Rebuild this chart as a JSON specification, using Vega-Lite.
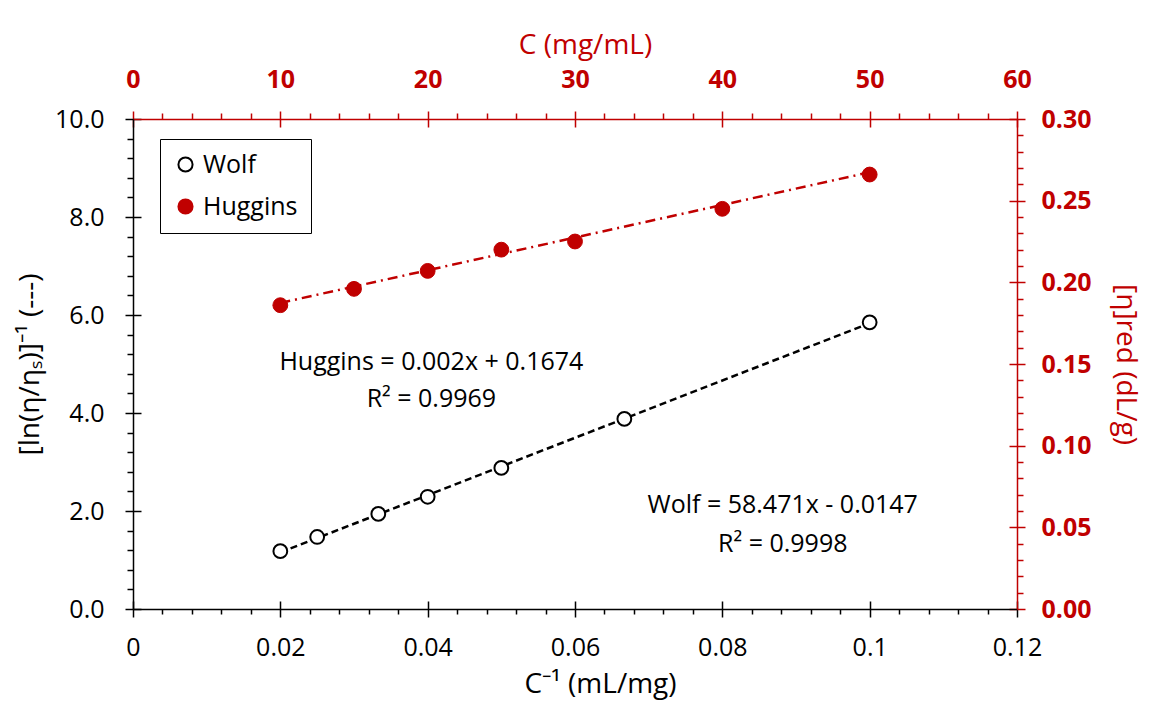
{
  "$schema": "https://vega.github.io/schema/vega-lite/v6.json",
  "width": 884,
  "height": 490,
  "autosize": {"type": "none"},
  "padding": {"left": 133, "top": 119, "right": 132, "bottom": 100},
  "background": "white",
  "config": {
    "view": {"stroke": null},
    "font": "Open Sans",
    "axis": {"labelFont": "Open Sans", "titleFont": "Open Sans", "labelOverlap": false, "labelFlush": false, "titleFontWeight": "normal"}
  },
  "layer": [
    {
      "encoding": {
        "x": {
          "field": "x", "type": "quantitative",
          "scale": {"domain": [0, 0.12], "nice": false, "zero": false},
          "axis": {
            "orient": "bottom",
            "title": "C⁻¹ (mL/mg)",
            "titleX": 467,
            "values": [0,0.004,0.008,0.012,0.016,0.02,0.024,0.028,0.032,0.036,0.04,0.044,0.048,0.052,0.056,0.06,0.064,0.068,0.072,0.076,0.08,0.084,0.088,0.092,0.096,0.1,0.104,0.108,0.112,0.116,0.12],
            "labelExpr": "abs(datum.value*50 - round(datum.value*50)) < 1e-6 ? format(datum.value, '~g') : ''",
            "tickSize": {"condition": {"test": "abs(datum.value*50 - round(datum.value*50)) < 1e-6", "value": 8}, "value": 5},
            "grid": true,
            "gridDash": [0, 482, 8, 3000],
            "gridColor": "black",
            "gridWidth": 1.5,
            "gridOpacity": {"condition": {"test": "abs(datum.value*50 - round(datum.value*50)) < 1e-6", "value": 1}, "value": 0},
            "domainColor": "black", "domainWidth": 1.5,
            "tickColor": "black", "tickWidth": 1.5,
            "labelColor": "black", "labelFontSize": 25, "labelPadding": 18,
            "titleColor": "black", "titleFontSize": 28, "titlePadding": 10
          }
        },
        "y": {
          "field": "y", "type": "quantitative",
          "scale": {"domain": [0, 10], "nice": false, "zero": false},
          "axis": {
            "orient": "left",
            "title": "[ln(η/ηₛ)]⁻¹ (---)",
            "values": [0,0.4,0.8,1.2,1.6,2,2.4,2.8,3.2,3.6,4,4.4,4.8,5.2,5.6,6,6.4,6.8,7.2,7.6,8,8.4,8.8,9.2,9.6,10],
            "labelExpr": "abs(datum.value/2 - round(datum.value/2)) < 1e-6 ? format(datum.value, '.1f') : ''",
            "tickSize": {"condition": {"test": "abs(datum.value/2 - round(datum.value/2)) < 1e-6", "value": 8}, "value": 6},
            "grid": true,
            "gridDash": [8, 3000],
            "gridColor": "black",
            "gridWidth": 1.5,
            "gridOpacity": {"condition": {"test": "abs(datum.value/2 - round(datum.value/2)) < 1e-6", "value": 1}, "value": 0},
            "domainColor": "black", "domainWidth": 1.5,
            "tickColor": "black", "tickWidth": 1.5,
            "labelColor": "black", "labelFontSize": 25, "labelPadding": 21,
            "titleColor": "black", "titleFontSize": 28, "titlePadding": 10
          }
        }
      },
      "layer": [
        {
          "data": {"values": [{"x": 0.02, "y": 1.1547}, {"x": 0.1, "y": 5.8324}]},
          "mark": {"type": "line", "color": "black", "strokeWidth": 2.5, "strokeDash": [7, 4]}
        },
        {
          "data": {"values": [
            {"x": 0.02, "y": 1.18, "series": "Wolf"},
            {"x": 0.025, "y": 1.47, "series": "Wolf"},
            {"x": 0.0333, "y": 1.94, "series": "Wolf"},
            {"x": 0.04, "y": 2.29, "series": "Wolf"},
            {"x": 0.05, "y": 2.88, "series": "Wolf"},
            {"x": 0.0667, "y": 3.88, "series": "Wolf"},
            {"x": 0.1, "y": 5.85, "series": "Wolf"}
          ]},
          "mark": {"type": "circle", "size": 190, "strokeWidth": 2, "opacity": 1},
          "encoding": {
            "fill": {"field": "series", "type": "nominal", "scale": {"domain": ["Wolf", "Huggins"], "range": ["white", "#C00000"]}, "legend": {
              "orient": "none", "legendX": 27, "legendY": 20, "title": null,
              "padding": 13, "strokeColor": "black", "fillColor": "white",
              "labelFontSize": 25, "labelFont": "Open Sans", "labelColor": "black", "labelOffset": 5,
              "symbolSize": 200, "symbolStrokeWidth": 2, "rowPadding": 16, "symbolType": "circle"
            }},
            "stroke": {"field": "series", "type": "nominal", "scale": {"domain": ["Wolf", "Huggins"], "range": ["black", "#C00000"]}}
          }
        },
        {
          "data": {"values": [
            {"x": 0.0405, "y": 5.04, "label": "Huggins = 0.002x + 0.1674"},
            {"x": 0.0405, "y": 4.29, "label": "R² = 0.9969"},
            {"x": 0.0882, "y": 2.12, "label": "Wolf = 58.471x - 0.0147"},
            {"x": 0.0882, "y": 1.33, "label": "R² = 0.9998"}
          ]},
          "mark": {"type": "text", "fontSize": 25, "color": "black", "align": "center", "baseline": "middle", "font": "Open Sans"},
          "encoding": {"text": {"field": "label", "type": "nominal"}}
        }
      ]
    },
    {
      "encoding": {
        "x": {
          "field": "c", "type": "quantitative",
          "scale": {"domain": [0, 60], "nice": false, "zero": false},
          "axis": {
            "orient": "top",
            "title": "C (mg/mL)",
            "titleX": 452,
            "values": [0,2,4,6,8,10,12,14,16,18,20,22,24,26,28,30,32,34,36,38,40,42,44,46,48,50,52,54,56,58,60],
            "labelExpr": "datum.value % 10 == 0 ? format(datum.value, 'd') : ''",
            "tickSize": {"condition": {"test": "datum.value % 10 == 0", "value": 8}, "value": 6},
            "grid": true,
            "gridDash": [0, 482, 8, 3000],
            "gridColor": "#C00000",
            "gridWidth": 1.5,
            "gridOpacity": {"condition": {"test": "datum.value % 10 == 0", "value": 1}, "value": 0},
            "domainColor": "#C00000", "domainWidth": 1.5,
            "tickColor": "#C00000", "tickWidth": 1.5,
            "labelColor": "#C00000", "labelFontSize": 25, "labelFontWeight": "bold", "labelPadding": 19,
            "titleColor": "#C00000", "titleFontSize": 28, "titlePadding": 8
          }
        },
        "y": {
          "field": "eta", "type": "quantitative",
          "scale": {"domain": [0, 0.3], "nice": false, "zero": false},
          "axis": {
            "orient": "right",
            "title": "[η]red (dL/g)",
            "values": [0,0.01,0.02,0.03,0.04,0.05,0.06,0.07,0.08,0.09,0.1,0.11,0.12,0.13,0.14,0.15,0.16,0.17,0.18,0.19,0.2,0.21,0.22,0.23,0.24,0.25,0.26,0.27,0.28,0.29,0.3],
            "labelExpr": "abs(datum.value*20 - round(datum.value*20)) < 1e-6 ? format(datum.value, '.2f') : ''",
            "tickSize": {"condition": {"test": "abs(datum.value*20 - round(datum.value*20)) < 1e-6", "value": 8}, "value": 6},
            "grid": true,
            "gridDash": [8, 3000],
            "gridColor": "#C00000",
            "gridWidth": 1.5,
            "gridOpacity": {"condition": {"test": "abs(datum.value*20 - round(datum.value*20)) < 1e-6", "value": 1}, "value": 0},
            "domainColor": "#C00000", "domainWidth": 1.5,
            "tickColor": "#C00000", "tickWidth": 1.5,
            "labelColor": "#C00000", "labelFontSize": 25, "labelFontWeight": "bold", "labelPadding": 16,
            "titleColor": "#C00000", "titleFontSize": 28, "titlePadding": 19
          }
        }
      },
      "layer": [
        {
          "data": {"values": [{"c": 10, "eta": 0.1874}, {"c": 50, "eta": 0.2674}]},
          "mark": {"type": "line", "color": "#C00000", "strokeWidth": 2.5, "strokeDash": [10, 5, 2, 5]}
        },
        {
          "data": {"values": [
            {"c": 10, "eta": 0.186, "series": "Huggins"},
            {"c": 15, "eta": 0.196, "series": "Huggins"},
            {"c": 20, "eta": 0.207, "series": "Huggins"},
            {"c": 25, "eta": 0.220, "series": "Huggins"},
            {"c": 30, "eta": 0.225, "series": "Huggins"},
            {"c": 40, "eta": 0.245, "series": "Huggins"},
            {"c": 50, "eta": 0.266, "series": "Huggins"}
          ]},
          "mark": {"type": "circle", "size": 220, "strokeWidth": 1, "opacity": 1},
          "encoding": {
            "fill": {"field": "series", "type": "nominal"},
            "stroke": {"field": "series", "type": "nominal"}
          }
        }
      ]
    }
  ],
  "resolve": {"scale": {"x": "independent", "y": "independent"}}
}
